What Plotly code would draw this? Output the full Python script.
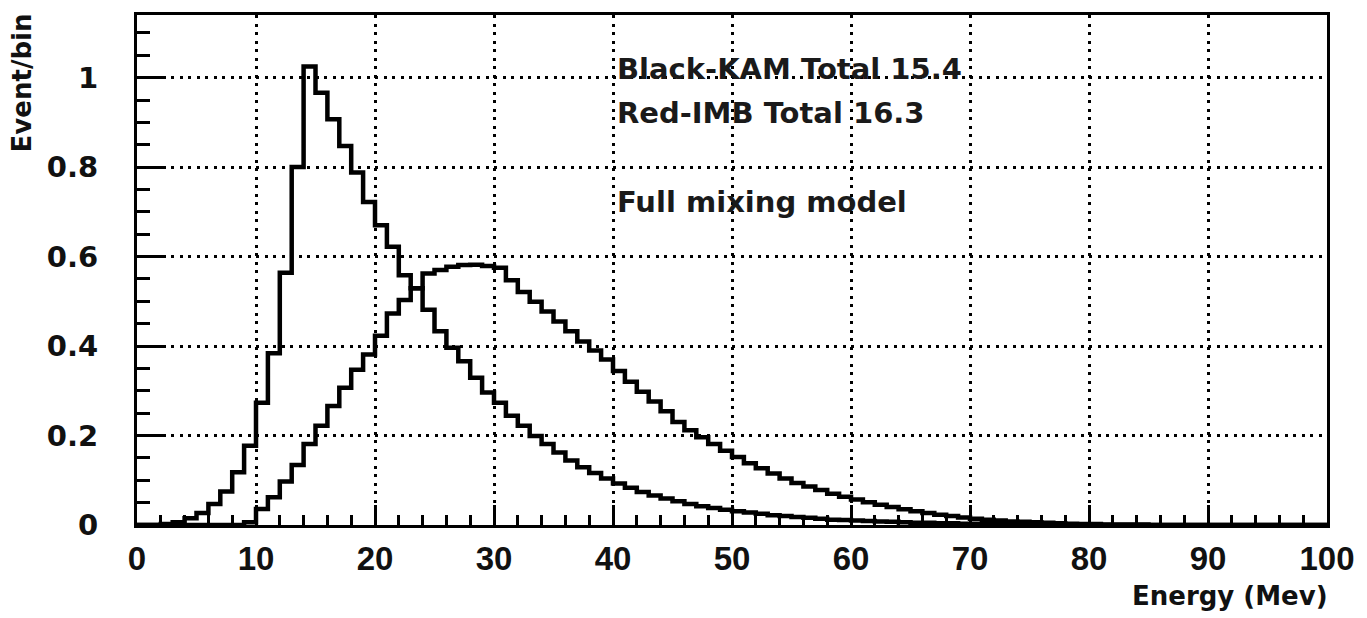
import plotly.graph_objects as go

# Bin lower edges (1 MeV bins from 0 to 100)
bin_edges = list(range(0, 101))

# KAM histogram (black), events per bin
kam_values = [
    0, 0, 0.002, 0.006, 0.015, 0.027, 0.047, 0.075, 0.118, 0.177,
    0.273, 0.384, 0.564, 0.80, 1.025, 0.966, 0.907, 0.847, 0.788, 0.722,
    0.67, 0.622, 0.558, 0.529, 0.481, 0.433, 0.396, 0.366, 0.329, 0.296,
    0.273, 0.244, 0.222, 0.199, 0.181, 0.162, 0.144, 0.129, 0.116, 0.104,
    0.093, 0.083, 0.074, 0.066, 0.059, 0.053, 0.047, 0.042, 0.038, 0.034,
    0.031, 0.028, 0.025, 0.022, 0.020, 0.018, 0.016, 0.014, 0.012, 0.011,
    0.010, 0.009, 0.008, 0.007, 0.006, 0.005, 0.005, 0.004, 0.004, 0.003,
    0.003, 0.002, 0.002, 0.002, 0.002, 0.002, 0.001, 0.001, 0.001, 0.001,
    0.001, 0, 0, 0, 0, 0, 0, 0, 0, 0,
    0, 0, 0, 0, 0, 0, 0, 0, 0, 0,
]

# IMB histogram (red in original, printed black), events per bin
imb_values = [
    0, 0, 0, 0, 0, 0, 0, 0, 0, 0.006,
    0.036, 0.062, 0.097, 0.134, 0.181, 0.222, 0.266, 0.307, 0.347, 0.381,
    0.423, 0.473, 0.503, 0.529, 0.562, 0.570, 0.577, 0.581, 0.582, 0.579,
    0.575, 0.547, 0.521, 0.499, 0.477, 0.455, 0.433, 0.410, 0.390, 0.370,
    0.344, 0.320, 0.298, 0.276, 0.254, 0.230, 0.212, 0.196, 0.181, 0.166,
    0.152, 0.138, 0.127, 0.115, 0.104, 0.094, 0.086, 0.078, 0.070, 0.063,
    0.057, 0.051, 0.045, 0.040, 0.035, 0.031, 0.027, 0.023, 0.020, 0.017,
    0.014, 0.012, 0.010, 0.008, 0.007, 0.006, 0.005, 0.004, 0.003, 0.002,
    0.002, 0.001, 0.001, 0.001, 0.001, 0, 0, 0, 0, 0,
    0, 0, 0, 0, 0, 0, 0, 0, 0, 0,
]

x_tick_vals = [0, 10, 20, 30, 40, 50, 60, 70, 80, 90, 100]
x_tick_text = ["0", "10", "20", "30", "40", "50", "60", "70", "80", "90", "100"]
y_tick_vals = [0, 0.2, 0.4, 0.6, 0.8, 1.0]
y_tick_text = ["0", "0.2", "0.4", "0.6", "0.8", "1"]

labels = ["Black-KAM Total 15.4", "Red-IMB Total 16.3", "Full mixing model"]
label_y = [1.02, 0.922, 0.722]

FONT_X = "Liberation Sans"
FONT_Y = "DejaVu Sans"
FONT_TXT = "DejaVu Sans"

fig = go.Figure()
for vals in (imb_values, kam_values):
    fig.add_trace(go.Scatter(
        x=bin_edges,
        y=vals + [vals[-1]],
        mode="lines",
        line=dict(color="black", width=4.5, shape="hv"),
        showlegend=False,
        hoverinfo="skip",
    ))

axis_common = dict(
    showline=True, linecolor="black", linewidth=3, mirror=True,
    showgrid=True, gridcolor="black", gridwidth=3, griddash="3px,5.5px",
    zeroline=False, ticks="inside", tickcolor="black", tickwidth=2.5,
)

fig.update_xaxes(
    range=[0, 100], tickvals=x_tick_vals, ticktext=x_tick_text,
    ticklen=20, ticklabelstandoff=2,
    tickfont=dict(family=FONT_X, size=33, color="#111", weight="bold"),
    minor=dict(dtick=2, ticks="inside", ticklen=10, tickwidth=2.5,
               tickcolor="black", showgrid=False),
    **axis_common,
)
fig.update_yaxes(
    range=[0, 1.14], tickvals=y_tick_vals, ticktext=y_tick_text,
    ticklen=26, ticklabelstandoff=30,
    tickfont=dict(family=FONT_Y, size=29, color="#111", weight="bold"),
    minor=dict(dtick=0.05, ticks="inside", ticklen=13, tickwidth=2.5,
               tickcolor="black", showgrid=False),
    **axis_common,
)

for txt, yy in zip(labels, label_y):
    fig.add_annotation(
        x=40.2, y=yy, xref="x", yref="y", text=txt, showarrow=False,
        xanchor="left", yanchor="middle",
        font=dict(family=FONT_TXT, size=29, color="#1a1a1a", weight="bold"),
    )

fig.add_annotation(
    x=-0.097, y=0.867, xref="paper", yref="paper", text="Event/bin",
    textangle=-90, showarrow=False, xanchor="center", yanchor="middle",
    font=dict(family=FONT_TXT, size=26, color="#111", weight="bold"),
)
fig.add_annotation(
    x=1.0025, y=-0.14, xref="paper", yref="paper", text="Energy (Mev)",
    showarrow=False, xanchor="right", yanchor="middle",
    font=dict(family=FONT_TXT, size=26, color="#111", weight="bold"),
)

fig.update_layout(
    width=1367, height=618,
    margin=dict(l=137, r=40, t=12, b=93),
    paper_bgcolor="white", plot_bgcolor="white",
)

fig.write_html("out.html")
